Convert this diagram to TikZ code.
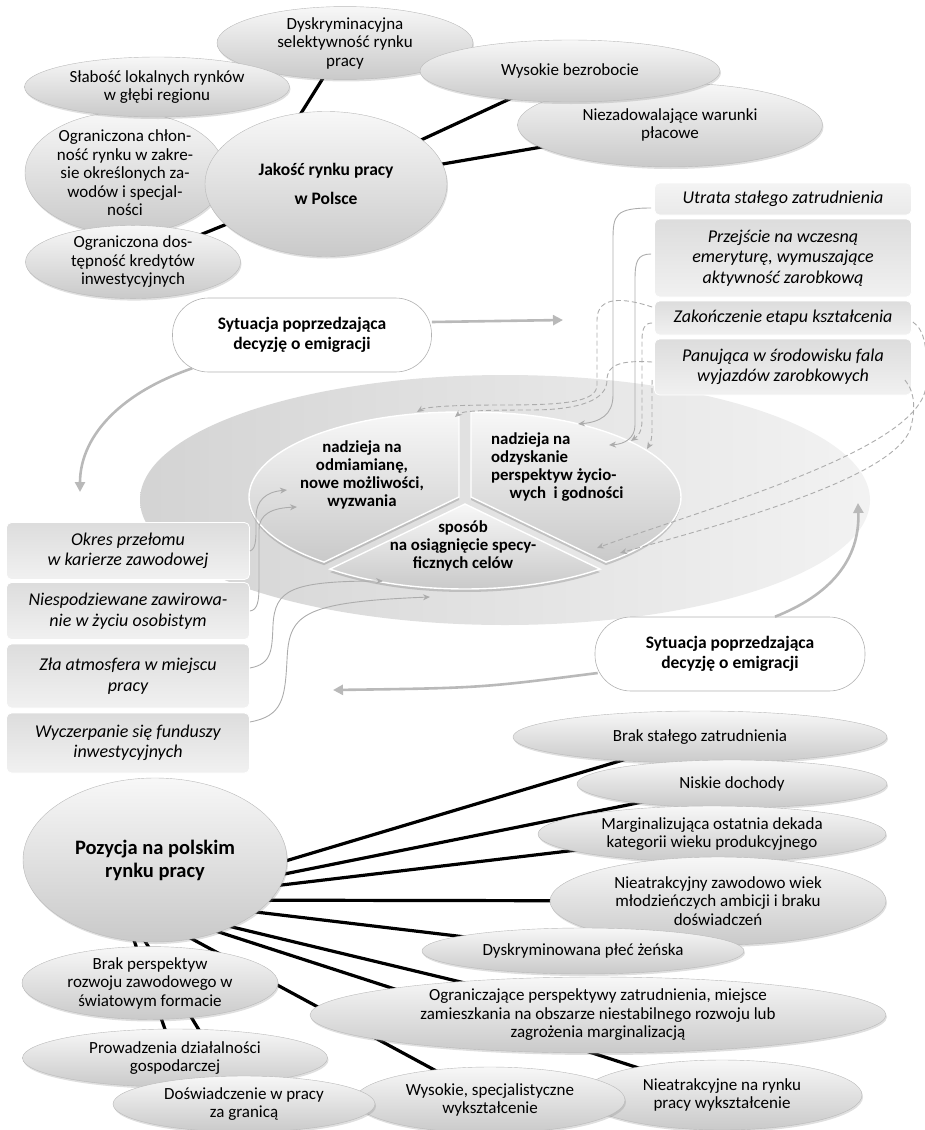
\documentclass[tikz,border=0pt]{standalone}
\usepackage{fontspec}
\setmainfont{Carlito}
\usetikzlibrary{shapes.geometric,arrows.meta,shadows,calc}
\pgfdeclarelayer{bg}
\pgfsetlayers{bg,main}
\begin{document}
\begin{tikzpicture}[x=1pt,y=-1pt,
  ell/.style={ellipse, draw=gray!55, line width=0.4pt, top color=gray!6, bottom color=gray!42,
     drop shadow={opacity=0.25,shadow xshift=1pt,shadow yshift=-2pt}, inner sep=0pt, align=center,
     font=\fontsize{17}{18.5}\selectfont},
  ttl/.style={ell, font=\fontsize{17.5}{29}\selectfont\bfseries},
  ibox/.style={rectangle, rounded corners=5pt, top color=gray!27, bottom color=gray!11, draw=white, line width=0.8pt,
     inner sep=0pt, align=center, font=\fontsize{18}{20.5}\selectfont\itshape, minimum width=243pt},
  rbox/.style={ibox, minimum width=257pt},
  sbox/.style={rectangle, rounded corners=36pt, draw=gray!60, fill=white, line width=0.6pt, align=center,
     font=\fontsize{17.5}{20}\selectfont\bfseries, minimum height=74pt},
  conn/.style={line width=3.2pt, black},
  tarr/.style={gray!65, line width=0.9pt, -{Stealth[length=7pt,width=6pt]}},
  dsh/.style={tarr, dash pattern=on 5pt off 3pt},
  garr/.style={gray!55, line width=2.6pt, -{Triangle[length=10pt,width=10pt]}},
  pie/.style={draw=white, line width=1.4pt, top color=gray!6, bottom color=gray!42,
     drop shadow={opacity=0.35, shadow xshift=0pt, shadow yshift=-3pt}},
  ptxt/.style={font=\fontsize{16.8}{18.2}\selectfont\bfseries, inner sep=0pt}
]
\useasboundingbox (0,0) rectangle (925,1130);

\begin{pgfonlayer}{bg}
\shade[left color=gray!34, right color=gray!10] (505,500) ellipse [x radius=365, y radius=125];
\end{pgfonlayer}

% ---------- top cluster ----------
\node[ell, minimum width=256pt, minimum height=72pt] (dysk) at (345,43) {Dyskryminacyjna\\selektywność rynku\\pracy};
\node[ell, minimum width=305pt, minimum height=84pt] (niez) at (670,125) {Niezadowalające warunki\\płacowe};
\node[ell, minimum width=300pt, minimum height=62pt] (wys) at (570,71) {Wysokie bezrobocie};
\node[ell, minimum width=200pt, minimum height=122pt] (chlon) at (125,173) {Ograniczona chłon-\\ność rynku w zakre-\\sie określonych za-\\wodów i specjal-\\ności};
\node[ell, minimum width=265pt, minimum height=60pt] (slab) at (157,87) {Słabość lokalnych rynków\\w głębi regionu};
\node[ell, minimum width=215pt, minimum height=70pt] (dos) at (133,262) {Ograniczona dos-\\tępność kredytów\\inwestycyjnych};
\node[ttl, minimum width=242pt, minimum height=145pt] (jakosc) at (326,184) {Jakość rynku pracy\\w Polsce};
\coordinate (jk1) at (258,182);

\begin{pgfonlayer}{bg}
\draw[conn] (jk1) -- (dysk.center);
\draw[conn] (jakosc.center) -- (wys.center);
\draw[conn] (jakosc.center) -- (niez.center);
\draw[conn] (jakosc.center) -- (dos.center);
\end{pgfonlayer}

% ---------- middle ----------
\path[pie] (459,497) -- plot[domain=130:270,samples=60] ({459+210*cos(\x)},{497+85*sin(\x)}) -- cycle;
\path[pie] (471,497) -- plot[domain=-90:50,samples=60] ({471+210*cos(\x)},{497+85*sin(\x)}) -- cycle;
\path[pie] (465,504) -- plot[domain=50:130,samples=40] ({465+210*cos(\x)},{504+85*sin(\x)}) -- cycle;

\node[ptxt, align=center] (ptl) at (362,475) {nadzieja na\\odmiamianę,\\nowe możliwości,\\wyzwania};
\node[ptxt, align=left, anchor=west] (ptr) at (491,467) {nadzieja na\\odzyskanie\\perspektyw życio-\\\hspace*{1.1em}wych\ \ i godności};
\node[ptxt, align=center] (ptb) at (463,546) {sposób\\na osiągnięcie specy-\\ficznych celów};

\node[sbox, minimum width=259pt] (sytop) at (302,335) {Sytuacja poprzedzająca\\decyzję o emigracji};
\node[sbox, minimum width=270pt] (sybot) at (730,654) {Sytuacja poprzedzająca\\decyzję o emigracji};

\node[rbox, minimum height=32pt, top color=gray!9, bottom color=gray!17] (utrata) at (783,199) {Utrata stałego zatrudnienia};
\node[rbox, minimum height=78pt] (przej) at (783,258) {Przejście na wczesną\\emeryturę, wymuszające\\aktywność zarobkową};
\node[rbox, minimum height=34pt] (zakon) at (783,318) {Zakończenie etapu kształcenia};
\node[rbox, minimum height=56pt] (panuj) at (783,367) {Panująca w środowisku fala\\wyjazdów zarobkowych};

\node[ibox, minimum height=57pt] (okres) at (128,551) {Okres przełomu\\w karierze zawodowej};
\node[ibox, minimum height=57pt] (niesp) at (128,611) {Niespodziewane zawirowa-\\nie w życiu osobistym};
\node[ibox, minimum height=64pt] (zla) at (128,676) {Zła atmosfera w miejscu\\pracy};
\node[ibox, minimum height=60pt] (wycz) at (128,743) {Wyczerpanie się funduszy\\inwestycyjnych};

\coordinate (tA) at (578,424);
\coordinate (tB) at (609,445);
\coordinate (tC) at (631,441);
\coordinate (tD) at (647,449);
\coordinate (tE) at (417,412);
\coordinate (tF) at (455,417);
\coordinate (tG) at (597,548);
\coordinate (tH) at (620,553);
\coordinate (tI) at (287,490);
\coordinate (tJ) at (297,507);
\coordinate (tK) at (383,581);
\coordinate (tL) at (430,597);
\coordinate (gA) at (563,320);
\coordinate (gB) at (80,492);
\coordinate (gC) at (858,503);
\coordinate (gD) at (333,690);

\draw[tarr] ($(utrata.west)+(-3,9)$) .. controls (615,208) and (613,215) .. (613,240) -- (613,395) .. controls (613,415) and (600,422) .. (tA);
\draw[tarr] ($(przej.west)+(-3,-4)$) .. controls (637,254) and (635,262) .. (635,280) -- (635,425) .. controls (635,438) and (625,444) .. (tB);
\draw[dsh] ($(zakon.west)+(-2,-11)$) .. controls (625,298) and (597,295) .. (597,320) -- (597,385) .. controls (597,403) and (560,405) .. (500,405) .. controls (450,405) and (425,407) .. (tE);
\draw[dsh] ($(panuj.west)+(-2,-5)$) .. controls (620,360) and (607,365) .. (607,380) .. controls (607,400) and (580,410) .. (530,410) .. controls (480,410) and (462,411) .. (tF);
\draw[dsh] ($(zakon.west)+(-2,5)$) .. controls (645,323) and (642,328) .. (642,340) -- (642,420) .. controls (642,432) and (638,436) .. (tC);
\draw[dsh] ($(panuj.west)+(-2,13)$) .. controls (652,385) and (652,390) .. (652,400) -- (652,430) .. controls (652,440) and (650,444) .. (tD);
\draw[dsh] ($(zakon.east)+(1,4)$) .. controls (925,330) and (928,350) .. (926,385) .. controls (923,450) and (700,510) .. (tG);
\draw[dsh] ($(panuj.east)+(-7,13)$) .. controls (915,392) and (916,410) .. (910,430) .. controls (890,480) and (720,525) .. (tH);

\draw[tarr] (okres.east) .. controls (257,549) and (256,535) .. (256,518) .. controls (256,500) and (266,492) .. (tI);
\draw[tarr] (niesp.east) .. controls (258,610) and (259,600) .. (259,585) -- (259,530) .. controls (259,514) and (272,508) .. (tJ);
\draw[tarr] ($(zla.east)+(0,-8)$) .. controls (272,664) and (272,650) .. (273,625) .. controls (275,590) and (290,581) .. (tK);
\draw[tarr] ($(wycz.east)+(0,-21)$) .. controls (282,716) and (285,700) .. (287,660) .. controls (289,615) and (300,602) .. (tL);

\draw[garr] ($(sytop.east)+(0,-13)$) -- (gA);
\draw[garr] ($(sytop.south west)+(20,-4)$) .. controls (115,395) and (80,440) .. (gB);
\draw[garr] ($(sybot.north)+(45,0)$) .. controls (830,595) and (860,560) .. (gC);
\draw[garr] ($(sybot.west)+(3,19)$) .. controls (480,688) .. (gD);

% ---------- bottom cluster ----------
\node[ttl, minimum width=264pt, minimum height=164pt, font=\fontsize{20.5}{23}\selectfont\bfseries] (poz) at (155,860) {Pozycja na polskim\\rynku pracy};
\node[ell, minimum width=374pt, minimum height=52pt] (bstale) at (700,737) {Brak stałego zatrudnienia};
\node[ell, minimum width=310pt, minimum height=48pt] (niskie) at (732,784) {Niskie dochody};
\node[ell, minimum width=348pt, minimum height=56pt] (marg) at (712,834) {Marginalizująca ostatnia dekada\\kategorii wieku produkcyjnego};
\node[ell, minimum width=336pt, minimum height=88pt] (nieatr) at (718,901) {Nieatrakcyjny zawodowo wiek\\młodzieńczych ambicji i braku\\doświadczeń};
\node[ell, minimum width=322pt, minimum height=46pt] (dyskr) at (583,951) {Dyskryminowana płeć żeńska};
\node[ell, minimum width=576pt, minimum height=76pt] (ogr) at (598,1015) {Ograniczające perspektywy zatrudnienia, miejsce\\zamieszkania na obszarze niestabilnego rozwoju lub\\zagrożenia marginalizacją};
\node[ell, minimum width=280pt, minimum height=70pt] (nrynku) at (722,1095) {Nieatrakcyjne na rynku\\pracy wykształcenie};
\node[ell, minimum width=270pt, minimum height=66pt] (wysspec) at (490,1100) {Wysokie, specjalistyczne\\wykształcenie};
\node[ell, minimum width=305pt, minimum height=58pt] (prow) at (175,1058) {Prowadzenia działalności\\gospodarczej};
\node[ell, minimum width=262pt, minimum height=56pt] (dosw) at (244,1104) {Doświadczenie w pracy\\za granicą};
\node[ell, minimum width=256pt, minimum height=62pt] (brakp) at (150,983) {Brak perspektyw\\rozwoju zawodowego w\\światowym formacie};
\coordinate (hub) at (155,900);
\coordinate (hubb) at (120,900);

\begin{pgfonlayer}{bg}
\draw[conn] (hub) -- (bstale.center);
\draw[conn] (hub) -- (niskie.center);
\draw[conn] (hub) -- (marg.center);
\draw[conn] (hub) -- (nieatr.center);
\draw[conn] (hub) -- (dyskr.center);
\draw[conn] (hubb) -- (ogr.center);
\draw[conn] (hubb) -- (nrynku.center);
\draw[conn] (hubb) -- (wysspec.center);
\draw[conn] (hubb) -- (prow.center);
\draw[conn] (hubb) -- (dosw.center);
\end{pgfonlayer}
\end{tikzpicture}
\end{document}
